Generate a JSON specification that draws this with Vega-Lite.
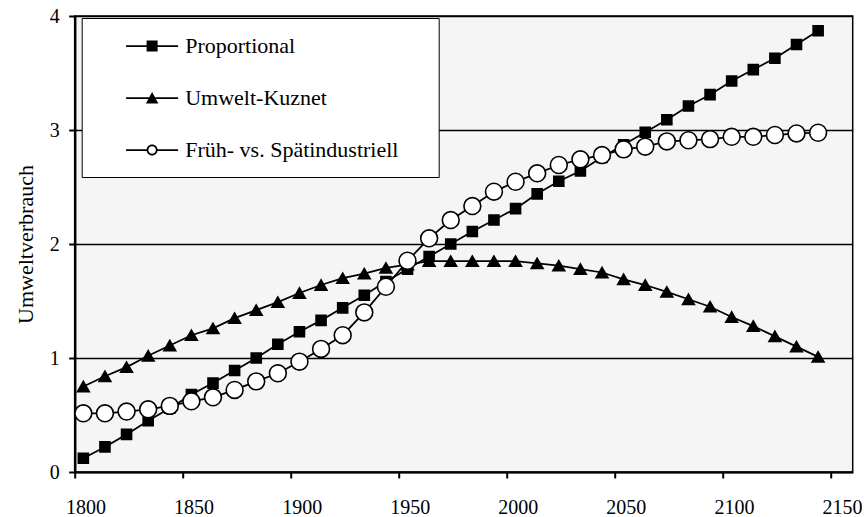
{
  "$schema": "https://vega.github.io/schema/vega-lite/v6.json",
  "width": 778,
  "height": 456,
  "autosize": "none",
  "padding": {"left": 74.7, "top": 16, "right": 11.3, "bottom": 45},
  "background": "white",
  "config": {
    "font": "Liberation Serif",
    "view": {"stroke": "black", "strokeWidth": 1.5, "fill": "#f5f5f5"},
    "axis": {
      "labelFont": "Liberation Serif",
      "labelFontSize": 20,
      "labelColor": "black",
      "titleFont": "Liberation Serif",
      "titleFontSize": 22,
      "titleFontWeight": "normal",
      "titleColor": "black",
      "domainColor": "black",
      "tickColor": "black",
      "tickSize": 6,
      "tickWidth": 2
    },
    "legend": {
      "labelFont": "Liberation Serif",
      "titleFont": "Liberation Serif"
    }
  },
  "data": {"values": [
    {"year": 1800, "series": "Proportional", "value": 0.12},
    {"year": 1810, "series": "Proportional", "value": 0.22},
    {"year": 1820, "series": "Proportional", "value": 0.33},
    {"year": 1830, "series": "Proportional", "value": 0.45},
    {"year": 1840, "series": "Proportional", "value": 0.56},
    {"year": 1850, "series": "Proportional", "value": 0.68},
    {"year": 1860, "series": "Proportional", "value": 0.78},
    {"year": 1870, "series": "Proportional", "value": 0.89},
    {"year": 1880, "series": "Proportional", "value": 1.0},
    {"year": 1890, "series": "Proportional", "value": 1.12},
    {"year": 1900, "series": "Proportional", "value": 1.23},
    {"year": 1910, "series": "Proportional", "value": 1.33},
    {"year": 1920, "series": "Proportional", "value": 1.44},
    {"year": 1930, "series": "Proportional", "value": 1.55},
    {"year": 1940, "series": "Proportional", "value": 1.67},
    {"year": 1950, "series": "Proportional", "value": 1.78},
    {"year": 1960, "series": "Proportional", "value": 1.89},
    {"year": 1970, "series": "Proportional", "value": 2.0},
    {"year": 1980, "series": "Proportional", "value": 2.11},
    {"year": 1990, "series": "Proportional", "value": 2.21},
    {"year": 2000, "series": "Proportional", "value": 2.31},
    {"year": 2010, "series": "Proportional", "value": 2.44},
    {"year": 2020, "series": "Proportional", "value": 2.55},
    {"year": 2030, "series": "Proportional", "value": 2.64},
    {"year": 2040, "series": "Proportional", "value": 2.76},
    {"year": 2050, "series": "Proportional", "value": 2.87},
    {"year": 2060, "series": "Proportional", "value": 2.98},
    {"year": 2070, "series": "Proportional", "value": 3.09},
    {"year": 2080, "series": "Proportional", "value": 3.21},
    {"year": 2090, "series": "Proportional", "value": 3.31},
    {"year": 2100, "series": "Proportional", "value": 3.43},
    {"year": 2110, "series": "Proportional", "value": 3.53},
    {"year": 2120, "series": "Proportional", "value": 3.63},
    {"year": 2130, "series": "Proportional", "value": 3.75},
    {"year": 2140, "series": "Proportional", "value": 3.87},
    {"year": 1800, "series": "Umwelt-Kuznet", "value": 0.75},
    {"year": 1810, "series": "Umwelt-Kuznet", "value": 0.84},
    {"year": 1820, "series": "Umwelt-Kuznet", "value": 0.92},
    {"year": 1830, "series": "Umwelt-Kuznet", "value": 1.02},
    {"year": 1840, "series": "Umwelt-Kuznet", "value": 1.11},
    {"year": 1850, "series": "Umwelt-Kuznet", "value": 1.2},
    {"year": 1860, "series": "Umwelt-Kuznet", "value": 1.26},
    {"year": 1870, "series": "Umwelt-Kuznet", "value": 1.35},
    {"year": 1880, "series": "Umwelt-Kuznet", "value": 1.42},
    {"year": 1890, "series": "Umwelt-Kuznet", "value": 1.49},
    {"year": 1900, "series": "Umwelt-Kuznet", "value": 1.57},
    {"year": 1910, "series": "Umwelt-Kuznet", "value": 1.64},
    {"year": 1920, "series": "Umwelt-Kuznet", "value": 1.7},
    {"year": 1930, "series": "Umwelt-Kuznet", "value": 1.74},
    {"year": 1940, "series": "Umwelt-Kuznet", "value": 1.79},
    {"year": 1950, "series": "Umwelt-Kuznet", "value": 1.82},
    {"year": 1960, "series": "Umwelt-Kuznet", "value": 1.85},
    {"year": 1970, "series": "Umwelt-Kuznet", "value": 1.85},
    {"year": 1980, "series": "Umwelt-Kuznet", "value": 1.85},
    {"year": 1990, "series": "Umwelt-Kuznet", "value": 1.85},
    {"year": 2000, "series": "Umwelt-Kuznet", "value": 1.85},
    {"year": 2010, "series": "Umwelt-Kuznet", "value": 1.83},
    {"year": 2020, "series": "Umwelt-Kuznet", "value": 1.81},
    {"year": 2030, "series": "Umwelt-Kuznet", "value": 1.78},
    {"year": 2040, "series": "Umwelt-Kuznet", "value": 1.75},
    {"year": 2050, "series": "Umwelt-Kuznet", "value": 1.69},
    {"year": 2060, "series": "Umwelt-Kuznet", "value": 1.64},
    {"year": 2070, "series": "Umwelt-Kuznet", "value": 1.58},
    {"year": 2080, "series": "Umwelt-Kuznet", "value": 1.515},
    {"year": 2090, "series": "Umwelt-Kuznet", "value": 1.45},
    {"year": 2100, "series": "Umwelt-Kuznet", "value": 1.36},
    {"year": 2110, "series": "Umwelt-Kuznet", "value": 1.28},
    {"year": 2120, "series": "Umwelt-Kuznet", "value": 1.19},
    {"year": 2130, "series": "Umwelt-Kuznet", "value": 1.1},
    {"year": 2140, "series": "Umwelt-Kuznet", "value": 1.01},
    {"year": 1800, "series": "Früh- vs. Spätindustriell", "value": 0.515},
    {"year": 1810, "series": "Früh- vs. Spätindustriell", "value": 0.515},
    {"year": 1820, "series": "Früh- vs. Spätindustriell", "value": 0.53},
    {"year": 1830, "series": "Früh- vs. Spätindustriell", "value": 0.55},
    {"year": 1840, "series": "Früh- vs. Spätindustriell", "value": 0.58},
    {"year": 1850, "series": "Früh- vs. Spätindustriell", "value": 0.62},
    {"year": 1860, "series": "Früh- vs. Spätindustriell", "value": 0.655},
    {"year": 1870, "series": "Früh- vs. Spätindustriell", "value": 0.72},
    {"year": 1880, "series": "Früh- vs. Spätindustriell", "value": 0.795},
    {"year": 1890, "series": "Früh- vs. Spätindustriell", "value": 0.866},
    {"year": 1900, "series": "Früh- vs. Spätindustriell", "value": 0.968},
    {"year": 1910, "series": "Früh- vs. Spätindustriell", "value": 1.08},
    {"year": 1920, "series": "Früh- vs. Spätindustriell", "value": 1.2},
    {"year": 1930, "series": "Früh- vs. Spätindustriell", "value": 1.4},
    {"year": 1940, "series": "Früh- vs. Spätindustriell", "value": 1.625},
    {"year": 1950, "series": "Früh- vs. Spätindustriell", "value": 1.853},
    {"year": 1960, "series": "Früh- vs. Spätindustriell", "value": 2.05},
    {"year": 1970, "series": "Früh- vs. Spätindustriell", "value": 2.21},
    {"year": 1980, "series": "Früh- vs. Spätindustriell", "value": 2.333},
    {"year": 1990, "series": "Früh- vs. Spätindustriell", "value": 2.459},
    {"year": 2000, "series": "Früh- vs. Spätindustriell", "value": 2.546},
    {"year": 2010, "series": "Früh- vs. Spätindustriell", "value": 2.62},
    {"year": 2020, "series": "Früh- vs. Spätindustriell", "value": 2.693},
    {"year": 2030, "series": "Früh- vs. Spätindustriell", "value": 2.743},
    {"year": 2040, "series": "Früh- vs. Spätindustriell", "value": 2.78},
    {"year": 2050, "series": "Früh- vs. Spätindustriell", "value": 2.83},
    {"year": 2060, "series": "Früh- vs. Spätindustriell", "value": 2.854},
    {"year": 2070, "series": "Früh- vs. Spätindustriell", "value": 2.9},
    {"year": 2080, "series": "Früh- vs. Spätindustriell", "value": 2.91},
    {"year": 2090, "series": "Früh- vs. Spätindustriell", "value": 2.92},
    {"year": 2100, "series": "Früh- vs. Spätindustriell", "value": 2.94},
    {"year": 2110, "series": "Früh- vs. Spätindustriell", "value": 2.94},
    {"year": 2120, "series": "Früh- vs. Spätindustriell", "value": 2.956},
    {"year": 2130, "series": "Früh- vs. Spätindustriell", "value": 2.97},
    {"year": 2140, "series": "Früh- vs. Spätindustriell", "value": 2.976}
  ]},
  "encoding": {
    "x": {
      "field": "year", "type": "quantitative",
      "scale": {"domain": [1796, 2156], "nice": false, "zero": false},
      "axis": {
        "title": null, "grid": false,
        "values": [1800, 1850, 1900, 1950, 2000, 2050, 2100, 2150],
        "format": "d",
        "domainWidth": 2,
        "tickOffset": -8.6,
        "labelOffset": 10.8,
        "labelPadding": 19.5,
        "labelFlush": false,
        "labelOverlap": false
      }
    },
    "y": {
      "field": "value", "type": "quantitative",
      "scale": {"domain": [0, 4], "nice": false},
      "axis": {
        "title": "Umweltverbrauch",
        "values": [0, 1, 2, 3, 4],
        "grid": true, "gridColor": "black", "gridWidth": 1.5, "gridOpacity": 1,
        "domainWidth": 2.5,
        "labelPadding": 9.4,
        "titlePadding": 12,
        "labelFlush": false
      }
    }
  },
  "layer": [
    {
      "transform": [{"filter": "datum.series === 'Proportional'"}],
      "mark": {"type": "line", "color": "black", "strokeWidth": 1.75},
      "encoding": {}
    },
    {
      "transform": [{"filter": "datum.series === 'Proportional'"}],
      "mark": {"type": "point", "shape": "square", "size": 100, "filled": true, "fill": "black", "stroke": "black", "strokeWidth": 1.6, "opacity": 1},
      "encoding": {}
    },
    {
      "transform": [{"filter": "datum.series === 'Umwelt-Kuznet'"}],
      "mark": {"type": "line", "color": "black", "strokeWidth": 1.75},
      "encoding": {}
    },
    {
      "transform": [{"filter": "datum.series === 'Umwelt-Kuznet'"}],
      "mark": {"type": "point", "shape": "triangle-up", "size": 140, "filled": true, "fill": "black", "stroke": "black", "strokeWidth": 1.6, "opacity": 1},
      "encoding": {}
    },
    {
      "transform": [{"filter": "datum.series === 'Früh- vs. Spätindustriell'"}],
      "mark": {"type": "line", "color": "black", "strokeWidth": 1.75},
      "encoding": {}
    },
    {
      "transform": [{"filter": "datum.series === 'Früh- vs. Spätindustriell'"}],
      "mark": {"type": "point", "shape": "circle", "size": 285, "filled": true, "fill": "white", "stroke": "black", "strokeWidth": 1.6, "opacity": 1},
      "encoding": {}
    },
    {
      "transform": [{"filter": "datum.value < 0"}],
      "mark": {"type": "point", "filled": true, "color": "black", "strokeWidth": 0, "opacity": 1},
      "encoding": {
        "shape": {
          "field": "series",
          "scale": {"domain": ["Proportional", "Umwelt-Kuznet", "Früh- vs. Spätindustriell"], "range": [
            "M-2.08,-0.07H2.08V0.07H-2.08Z M-0.44,-0.44H0.44V0.44H-0.44Z",
            "M-2.08,-0.07H2.08V0.07H-2.08Z M0,-0.48L0.5,0.44H-0.5Z",
            "M-2.08,-0.07H-0.37V0.07H-2.08Z M0.37,-0.07H2.08V0.07H0.37Z M-0.44,0A0.44,0.44 0 1,1 0.44,0A0.44,0.44 0 1,1 -0.44,0Z M-0.3,0A0.3,0.3 0 1,0 0.3,0A0.3,0.3 0 1,0 -0.3,0Z"
          ]},
          "legend": {
            "orient": "none", "legendX": 7, "legendY": 2,
            "title": " ",
            "titleOrient": "right",
            "titlePadding": 25,
            "titleFontSize": 22,
            "strokeColor": "black", "fillColor": "white",
            "padding": 15.5,
            "symbolSize": 625,
            "symbolFillColor": "black",
            "symbolStrokeColor": "black",
            "symbolStrokeWidth": 0,
            "symbolOpacity": 1,
            "symbolOffset": 42.4,
            "labelOffset": 20.6,
            "labelFont": "Liberation Serif",
            "labelFontSize": 22,
            "labelColor": "black",
            "labelLimit": 400,
            "rowPadding": 28
          }
        }
      }
    }
  ]
}
